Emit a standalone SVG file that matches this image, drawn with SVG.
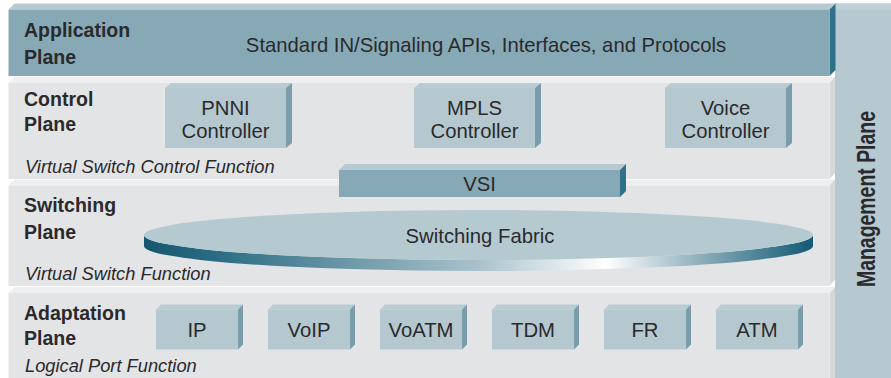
<svg xmlns="http://www.w3.org/2000/svg" xmlns:xlink="http://www.w3.org/1999/xlink" width="891" height="378" viewBox="0 0 891 378">
<style>
text{font-family:"Liberation Sans",Arial,sans-serif;fill:#2a2a2c}
.lbl{font-size:19.5px;font-weight:bold}
.it{font-size:18.3px;font-style:italic}
.t{font-size:20.3px;text-anchor:middle}
.appF{fill:#87a9b5}.appT{fill:#b7cad1}.appS{fill:#2f7189}
.gF{fill:#e3e4e6}.gT{fill:#eeeff0}.gS{fill:#d5d7d9}
.bF{fill:#b5c8cf}.bT{fill:#b9ccd2}.bS{fill:#7a9cab}
.mg{fill:#b6c9d0}
</style>
<defs>
<linearGradient id="rim" gradientUnits="userSpaceOnUse" x1="144" y1="0" x2="813" y2="0">
<stop offset="0" stop-color="#15566f"/>
<stop offset="0.12" stop-color="#2d6f86"/>
<stop offset="0.3" stop-color="#6b97a7"/>
<stop offset="0.5" stop-color="#a9c2cb"/>
<stop offset="0.69" stop-color="#ffffff"/>
<stop offset="0.85" stop-color="#7fa4b2"/>
<stop offset="1" stop-color="#125a74"/>
</linearGradient>
<g id="ctlBox">
<polygon class="bT" points="0,5 6,0 127,0 121,5"/>
<polygon class="bS" points="121,5 127,0 127,60 121,65"/>
<rect class="bF" x="0" y="5" width="121" height="60"/>
</g>
<g id="portBox">
<polygon class="bT" points="0,5 5,0 87,0 82,5"/>
<polygon class="bS" points="82,5 87,0 87,40 82,45"/>
<rect class="bF" x="0" y="5" width="82" height="40"/>
</g>
</defs>
<rect width="891" height="378" fill="#ffffff"/>

<g id="management-plane">
<rect class="mg" x="835" y="3.5" width="56" height="375"/>
<rect x="835" y="3.5" width="56" height="6" fill="#bfd0d6"/>
<text transform="translate(875,199) rotate(-90)" font-size="26" font-weight="bold" text-anchor="middle" textLength="176" lengthAdjust="spacingAndGlyphs">Management Plane</text>
</g>

<g id="application-plane">
<polygon class="appT" points="8.5,9.5 14.5,3.5 835.5,3.5 829.5,9.5"/>
<polygon class="appS" points="829.5,9.5 835.5,3.5 835.5,70 829.5,76"/>
<rect class="appF" x="8.5" y="9.5" width="821" height="66.5"/>
<text class="lbl" x="24" y="37">Application</text>
<text class="lbl" x="24" y="64">Plane</text>
<text class="t" x="486" y="52" font-size="20.8">Standard IN/Signaling APIs, Interfaces, and Protocols</text>
</g>

<g id="control-plane">
<polygon class="gT" points="8.5,83 14.5,77 835,77 829.5,83"/>
<polygon class="gS" points="829.5,83 835,77 835,173 829.5,179"/>
<rect class="gF" x="8.5" y="83" width="821" height="96"/>
<text class="lbl" x="24" y="106">Control</text>
<text class="lbl" x="24" y="131">Plane</text>
<text class="it" x="25" y="173">Virtual Switch Control Function</text>
</g>

<g id="switching-plane">
<polygon class="gT" points="8.5,185.5 14.5,179.5 835,179.5 829.5,185.5"/>
<polygon class="gS" points="829.5,185.5 835,179.5 835,280 829.5,286"/>
<rect class="gF" x="8.5" y="185.5" width="821" height="100.5"/>
<text class="lbl" x="24" y="212">Switching</text>
<text class="lbl" x="24" y="238.5">Plane</text>
<text class="it" x="25" y="280">Virtual Switch Function</text>
</g>

<g id="adaptation-plane">
<polygon class="gT" points="8.5,293 14.5,287 835,287 829.5,293"/>
<polygon class="gS" points="829.5,293 835,287 835,378 829.5,378"/>
<rect class="gF" x="8.5" y="293" width="821" height="85"/>
<text class="lbl" x="24" y="319.5">Adaptation</text>
<text class="lbl" x="24" y="345">Plane</text>
<text class="it" x="25" y="372">Logical Port Function</text>
</g>

<g id="pnni-controller">
<use xlink:href="#ctlBox" x="165" y="83"/>
<text class="t" x="225.5" y="115">PNNI</text>
<text class="t" x="225.5" y="137.5">Controller</text>
</g>
<g id="mpls-controller">
<use xlink:href="#ctlBox" x="414" y="83"/>
<text class="t" x="474.5" y="115">MPLS</text>
<text class="t" x="474.5" y="137.5">Controller</text>
</g>
<g id="voice-controller">
<use xlink:href="#ctlBox" x="665" y="83"/>
<text class="t" x="725.5" y="115">Voice</text>
<text class="t" x="725.5" y="137.5">Controller</text>
</g>

<g id="vsi">
<polygon class="appT" points="339,170 345,164 626,164 620,170"/>
<polygon class="appS" points="620,170 626,164 626,191 620,197"/>
<rect class="appF" x="339" y="170" width="281" height="27"/>
<text class="t" x="479.5" y="190.5">VSI</text>
</g>

<g id="switching-fabric">
<path d="M144,235 L144,246 A334.5,25 0 0 0 813,246 L813,235 A334.5,25 0 0 1 144,235 Z" fill="url(#rim)"/>
<ellipse cx="478.5" cy="235" rx="334.5" ry="25" fill="#b5c9d0"/>
<text class="t" x="480" y="243">Switching Fabric</text>
</g>

<g id="port-ip"><use xlink:href="#portBox" x="156" y="304.5"/><text class="t" x="197" y="337">IP</text></g>
<g id="port-voip"><use xlink:href="#portBox" x="268" y="304.5"/><text class="t" x="309" y="337">VoIP</text></g>
<g id="port-voatm"><use xlink:href="#portBox" x="380" y="304.5"/><text class="t" x="421" y="337">VoATM</text></g>
<g id="port-tdm"><use xlink:href="#portBox" x="492" y="304.5"/><text class="t" x="533" y="337">TDM</text></g>
<g id="port-fr"><use xlink:href="#portBox" x="604" y="304.5"/><text class="t" x="645" y="337">FR</text></g>
<g id="port-atm"><use xlink:href="#portBox" x="716" y="304.5"/><text class="t" x="757" y="337">ATM</text></g>

<g id="connectors"/>
</svg>
